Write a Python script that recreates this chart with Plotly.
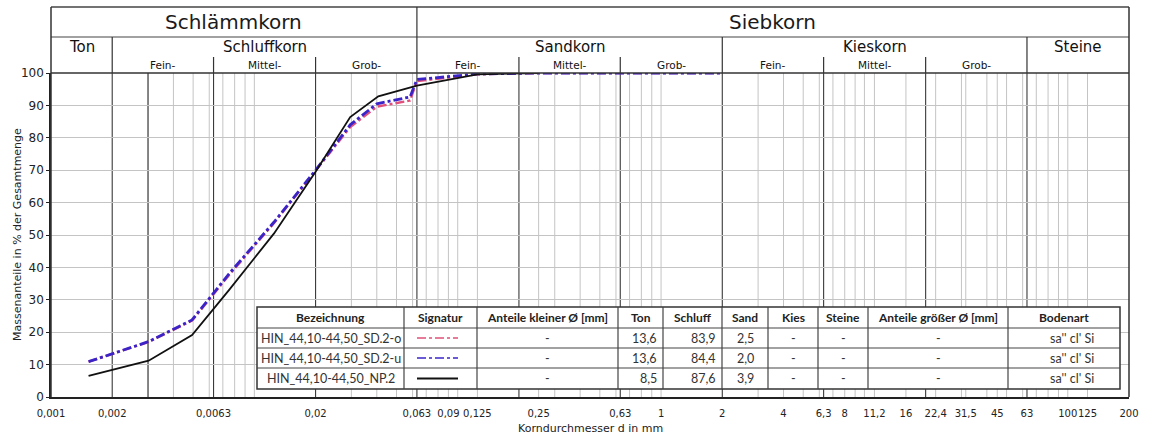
import math
import plotly.graph_objects as go

# grain size distribution data (d in mm, passing in %)
d_sd = [0.00153, 0.00302, 0.00494, 0.0075, 0.0125, 0.02, 0.0296, 0.0400, 0.0583, 0.063, 0.125, 0.25, 0.63, 2.0]
sd_o = [10.9, 17.0, 23.6, 37.6, 53.7, 69.8, 83.3, 89.6, 91.5, 97.5, 99.6, 100, 100, 100]
sd_u = [10.9, 17.1, 23.8, 38.0, 54.0, 70.0, 84.0, 90.5, 92.6, 98.0, 99.7, 100, 100, 100]
d_np = [0.00153, 0.00302, 0.00494, 0.0075, 0.0125, 0.02, 0.0296, 0.0407, 0.063, 0.125, 0.25]
np2 = [6.5, 11.2, 19.1, 33.0, 50.5, 69.5, 86.4, 92.8, 96.1, 99.6, 100]

tick_vals = [0.001, 0.002, 0.0063, 0.02, 0.063, 0.09, 0.125, 0.25, 0.63, 1, 2, 4, 6.3, 8,
             11.2, 16, 22.4, 31.5, 45, 63, 100, 125, 200]
tick_text = [str(v).replace('.', ',') for v in tick_vals]

# soil classes
class_bounds = [0.002, 0.0063, 0.02, 0.063, 0.2, 0.63, 2, 6.3, 20, 63]
main_classes = [("Ton", 0.001, 0.002), ("Schluffkorn", 0.002, 0.063), ("Sandkorn", 0.063, 2),
                ("Kieskorn", 2, 63), ("Steine", 63, 200)]
sub_classes = [("Fein-", 0.002, 0.0063), ("Mittel-", 0.0063, 0.02), ("Grob-", 0.02, 0.063),
               ("Fein-", 0.063, 0.2), ("Mittel-", 0.2, 0.63), ("Grob-", 0.63, 2),
               ("Fein-", 2, 6.3), ("Mittel-", 6.3, 20), ("Grob-", 20, 63)]

# legend table
tbl_header = ["Bezeichnung", "Signatur", "Anteile kleiner Ø [mm]", "Ton", "Schluff", "Sand",
              "Kies", "Steine", "Anteile größer Ø [mm]", "Bodenart"]
tbl_names = ["HIN_44,10-44,50_SD.2-o", "HIN_44,10-44,50_SD.2-u", "HIN_44,10-44,50_NP.2"]
tbl_ton = ["13,6", "13,6", "8,5"]
tbl_schluff = ["83,9", "84,4", "87,6"]
tbl_sand = ["2,5", "2,0", "3,9"]
tbl_boden = ["sa'' cl' Si", "sa'' cl' Si", "sa'' cl' Si"]

colors = ["#e0507a", "#3a24c8", "#111111"]
dashes = ["dashdot", "dashdot", "solid"]
widths = [2.4, 2.8, 1.8]

L, R, T, B = 51, 1129, 73, 397
W, H = R - L, B - T
LMIN, LMAX = math.log10(0.001), math.log10(200)


def px(x):
    return (x - L) / W


def py(y):
    return (B - y) / H


def dx(d):
    return (math.log10(d) - LMIN) / (LMAX - LMIN)


fig = go.Figure()
for name, xs, ys, c, dsh, w in zip(tbl_names, [d_sd, d_sd, d_np], [sd_o, sd_u, np2], colors, dashes, widths):
    fig.add_trace(go.Scatter(x=xs, y=ys, mode="lines", name=name,
                             line=dict(color=c, dash=dsh, width=w), showlegend=False))

shapes = []
ann = []

def vline(xp, y0, y1, color, width=1, layer="below"):
    shapes.append(dict(type="line", xref="paper", yref="paper", x0=xp, x1=xp, y0=y0, y1=y1,
                       line=dict(color=color, width=width), layer=layer))

def hline(yp, x0, x1, color, width=1, layer="above"):
    shapes.append(dict(type="line", xref="paper", yref="paper", x0=x0, x1=x1, y0=yp, y1=yp,
                       line=dict(color=color, width=width), layer=layer))

# light vertical grid
light = set()
for n in range(-3, 3):
    for k in range(1, 10):
        v = round(k * 10 ** n, 6)
        if 0.001 < v < 200:
            light.add(v)
for v in tick_vals[1:-1]:
    light.add(v)
for v in sorted(light):
    if v in class_bounds:
        continue
    vline(dx(v), 0, 1, "#c4c4c4", 1)
for v in class_bounds + [0.003]:
    vline(dx(v), 0, 1, "#3a3a3a", 1.1)

# header box
top = py(7)
row2 = py(37)
sub = py(57)
hline(top, 0, 1, "#444", 1.5)
hline(row2, 0, 1, "#444", 1.2)
hline(1, 0, 1, "#333", 1.5)
vline(0, 0, top, "#333", 1.5, "above")
vline(1, 0, top, "#333", 1.5, "above")
vline(dx(0.063), 1, top, "#333", 1.2, "above")
for v in [0.002, 2, 63]:
    vline(dx(v), 1, row2, "#333", 1.2, "above")
for v in [0.0063, 0.02, 0.2, 0.63, 6.3, 20]:
    vline(dx(v), 1, sub, "#333", 1.2, "above")

hfont = "DejaVu Sans"
ann.append(dict(text="Schlämmkorn", x=(dx(0.001) + dx(0.063)) / 2, y=py(22)))
ann.append(dict(text="Siebkorn", x=(dx(0.063) + dx(200)) / 2, y=py(22)))
for a in ann:
    a.update(font=dict(family=hfont, size=20, color="#1a1a1a"))
for name, a0, a1 in main_classes:
    ann.append(dict(text=name, x=(dx(a0) + dx(a1)) / 2, y=py(47),
                    font=dict(family=hfont, size=15, color="#111")))
for name, a0, a1 in sub_classes:
    ann.append(dict(text=name, x=(dx(a0) + dx(a1)) / 2, y=py(65),
                    font=dict(family=hfont, size=10.5, color="#111")))

# table
cols = [257, 404, 477, 618, 663, 722, 768, 818, 868, 1008, 1120]
rows = [307, 328, 348, 368, 389]
shapes.append(dict(type="rect", xref="paper", yref="paper", x0=px(cols[0]), x1=px(cols[-1]),
                   y0=py(rows[-1]), y1=py(rows[0]), fillcolor="white",
                   line=dict(color="#333", width=1.5), layer="above"))
for r in rows[1:-1]:
    hline(py(r), px(cols[0]), px(cols[-1]), "#444", 1.2)
for c in cols[1:-1]:
    shapes.append(dict(type="line", xref="paper", yref="paper", x0=px(c), x1=px(c),
                       y0=py(rows[-1]), y1=py(rows[0]), line=dict(color="#444", width=1.2), layer="above"))

tfont = "Lato"
centers = [(cols[i] + cols[i + 1]) / 2 for i in range(len(cols) - 1)]
for i, h in enumerate(tbl_header):
    ann.append(dict(text="<b>" + h + "</b>", x=px(centers[i]), y=py((rows[0] + rows[1]) / 2),
                    font=dict(family=tfont, size=12, color="#222")))
for j in range(3):
    yc = py((rows[j + 1] + rows[j + 2]) / 2)
    row = [tbl_names[j], None, "-", tbl_ton[j], tbl_schluff[j], tbl_sand[j], "-", "-", "-", tbl_boden[j]]
    for i, t in enumerate(row):
        if t is None:
            shapes.append(dict(type="line", xref="paper", yref="paper", x0=px(417), x1=px(458),
                               y0=yc, y1=yc, layer="above",
                               line=dict(color=colors[j], width=1.5 if j < 2 else 1.8,
                                         dash=dashes[j])))
            continue
        a = dict(text=t, y=yc, font=dict(family=tfont, size=12.5, color="#333"))
        if i in (3, 4):
            a.update(x=px(cols[i + 1] - 4), xanchor="right")
        elif i == 9:
            a.update(x=px(1072))
        else:
            a.update(x=px(centers[i]))
        ann.append(a)

ann.append(dict(text="Korndurchmesser d in mm", x=px(590), y=py(428),
                font=dict(family=hfont, size=11, color="#222")))
ann.append(dict(text="Massenanteile in % der Gesamtmenge", x=px(17), y=0.5, textangle=-90,
                font=dict(family=hfont, size=11, color="#222")))
for a in ann:
    a.update(xref="paper", yref="paper", showarrow=False)
    a.setdefault("xanchor", "center")
    a.setdefault("yanchor", "middle")

fig.update_layout(
    template="none",
    width=1152, height=438,
    margin=dict(l=L, r=1152 - R, t=T, b=438 - B, autoexpand=False),
    paper_bgcolor="white", plot_bgcolor="white",
    shapes=shapes, annotations=ann,
    xaxis=dict(type="log", range=[LMIN, LMAX], tickvals=tick_vals, ticktext=tick_text,
               tickangle=0, showgrid=False, zeroline=False, showline=True, linecolor="#222",
               linewidth=1.5, ticks="", automargin=False, ticklabelstandoff=6,
               tickfont=dict(family=hfont, size=10, color="#222")),
    yaxis=dict(range=[0, 100], tickvals=list(range(0, 101, 10)), showgrid=True,
               gridcolor="#c4c4c4", gridwidth=1, zeroline=False, showline=True,
               linecolor="#222", linewidth=1.5, ticks="outside", ticklen=3, tickcolor="#222",
               automargin=False, tickfont=dict(family=hfont, size=12, color="#222")),
)

fig.write_html("out.html", config={"displayModeBar": False},
               post_script="document.body.style.margin='0';")
